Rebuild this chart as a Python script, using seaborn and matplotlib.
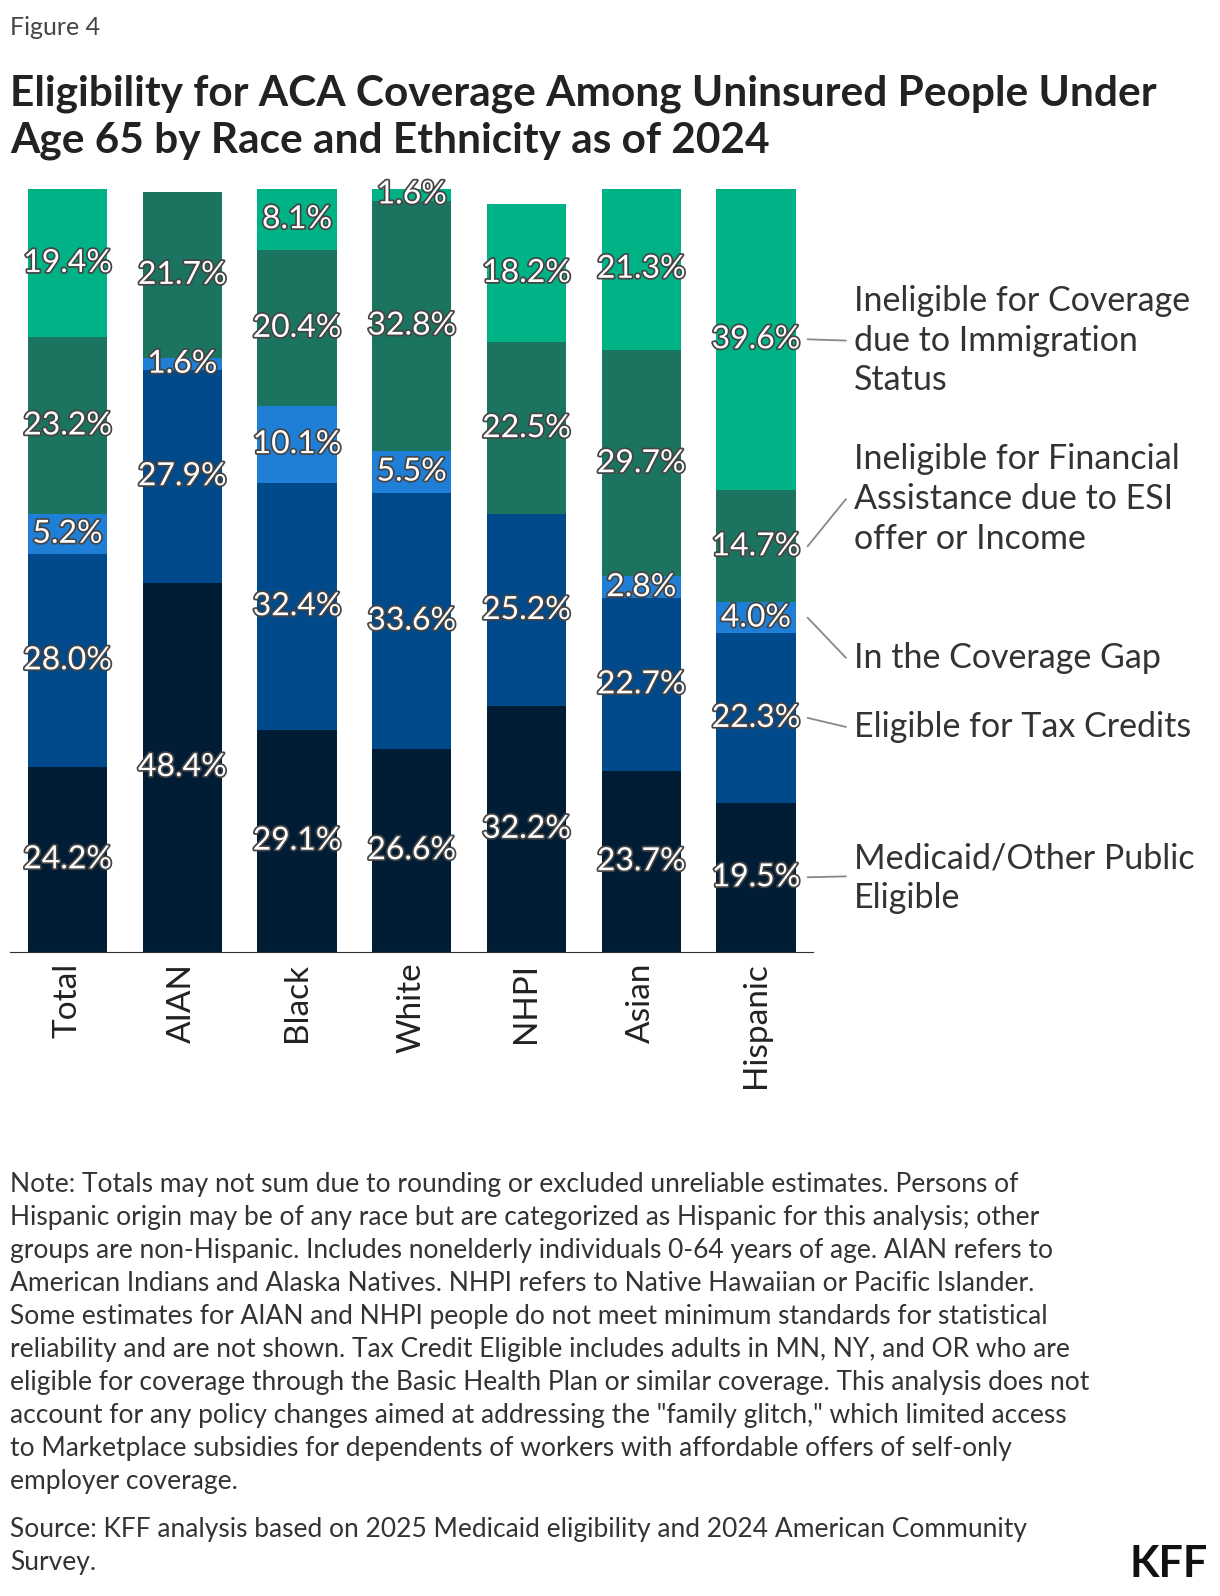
import matplotlib
matplotlib.use("Agg")
import matplotlib.pyplot as plt
import matplotlib.patheffects as pe
import seaborn as sns
import pandas as pd
import numpy as np

sns.set_style("white")
plt.rcParams['font.family'] = ['Lato', 'DejaVu Sans']

groups = ["Total", "AIAN", "Black", "White", "NHPI", "Asian", "Hispanic"]
medicaid = [24.2, 48.4, 29.1, 26.6, 32.2, 23.7, 19.5]
tax_credits = [28.0, 27.9, 32.4, 33.6, 25.2, 22.7, 22.3]
coverage_gap = [5.2, 1.6, 10.1, 5.5, 0.0, 2.8, 4.0]
inelig_fin = [23.2, 21.7, 20.4, 32.8, 22.5, 29.7, 14.7]
inelig_imm = [19.4, 0.0, 8.1, 1.6, 18.2, 21.3, 39.6]

series = [medicaid, tax_credits, coverage_gap, inelig_fin, inelig_imm]
colors = ["#001D35", "#004A8C", "#1F7FD6", "#1B745F", "#00B386"]
legend_labels = ["Medicaid/Other Public\nEligible", "Eligible for Tax Credits",
                 "In the Coverage Gap",
                 "Ineligible for Financial\nAssistance due to ESI\noffer or Income",
                 "Ineligible for Coverage\ndue to Immigration\nStatus"]

W, H = 1220, 1596
S = 1220 / 1200  # reference coordinates were read at 1200 px width
fig = plt.figure(figsize=(W/100, H/100), dpi=100)
def fx(x): return x * S / W
def fy(y): return 1 - y * S / H
ax = fig.add_axes([fx(10), fy(936), fx(800) - fx(10), fy(186) - fy(936)])

cum = np.cumsum(np.array(series), axis=0)
for i in range(len(series) - 1, -1, -1):
    df = pd.DataFrame({"g": groups, "v": cum[i]})
    sns.barplot(data=df, x="g", y="v", color=colors[i], width=0.69,
                saturation=1, ax=ax, order=groups, linewidth=0, edgecolor="none")

ax.set_ylim(0, 100)
ax.set_xlim(-0.5, 6.5)
ax.set_yticks([])
ax.set_xlabel("")
ax.set_ylabel("")
for s in ["top", "right", "left"]:
    ax.spines[s].set_visible(False)
ax.spines["bottom"].set_color("#333333")
ax.tick_params(axis="x", length=0, pad=8)
ax.set_xticks(range(len(groups)))
ax.set_xticklabels(groups, rotation=90, fontsize=24, color="#222222", va="top")

stroke = [pe.withStroke(linewidth=2.5, foreground="#444444")]
for i, s in enumerate(series):
    for j, v in enumerate(s):
        if v <= 0:
            continue
        mid = cum[i][j] - v / 2
        ax.text(j, mid, f"{v:.1f}%", ha="center", va="center", fontsize=23,
                color="white", path_effects=stroke, clip_on=False)

leg_y = [862, 715, 647, 491, 335]
leg_text_y = [864, 715, 647, 491, 335]
for i in range(5):
    fig.text(fx(840), fy(leg_text_y[i]), legend_labels[i], fontsize=24.5,
             color="#333333", va="center", ha="left", linespacing=1.3)
    mid = cum[i][6] - series[i][6] / 2
    ax.annotate("", xy=(6.45, mid), xycoords="data",
                xytext=(fx(832), fy(leg_y[i])), textcoords="figure fraction",
                arrowprops=dict(arrowstyle="-", color="#888888", lw=1.3,
                                shrinkA=0, shrinkB=0),
                annotation_clip=False)

fig.text(fx(10), fy(27), "Figure 4", fontsize=18, color="#444444", va="center")
fig.text(fx(10), fy(115), "Eligibility for ACA Coverage Among Uninsured People Under\nAge 65 by Race and Ethnicity as of 2024",
         fontsize=30.5, fontweight="bold", color="#222222", va="center", linespacing=1.28)

note = ("Note: Totals may not sum due to rounding or excluded unreliable estimates. Persons of\n"
        "Hispanic origin may be of any race but are categorized as Hispanic for this analysis; other\n"
        "groups are non-Hispanic. Includes nonelderly individuals 0-64 years of age. AIAN refers to\n"
        "American Indians and Alaska Natives. NHPI refers to Native Hawaiian or Pacific Islander.\n"
        "Some estimates for AIAN and NHPI people do not meet minimum standards for statistical\n"
        "reliability and are not shown. Tax Credit Eligible includes adults in MN, NY, and OR who are\n"
        "eligible for coverage through the Basic Health Plan or similar coverage. This analysis does not\n"
        "account for any policy changes aimed at addressing the \"family glitch,\" which limited access\n"
        "to Marketplace subsidies for dependents of workers with affordable offers of self-only\n"
        "employer coverage.")
fig.text(fx(10), fy(1153), note, fontsize=19, color="#333333", va="top", linespacing=1.4)
fig.text(fx(10), fy(1492), "Source: KFF analysis based on 2025 Medicaid eligibility and 2024 American Community\nSurvey.",
         fontsize=19, color="#333333", va="top", linespacing=1.4)
fig.text(fx(1188), fy(1538), "KFF", fontsize=31, fontweight="bold", color="#111111",
         ha="right", va="center")

fig.savefig("out.png", dpi=100)
